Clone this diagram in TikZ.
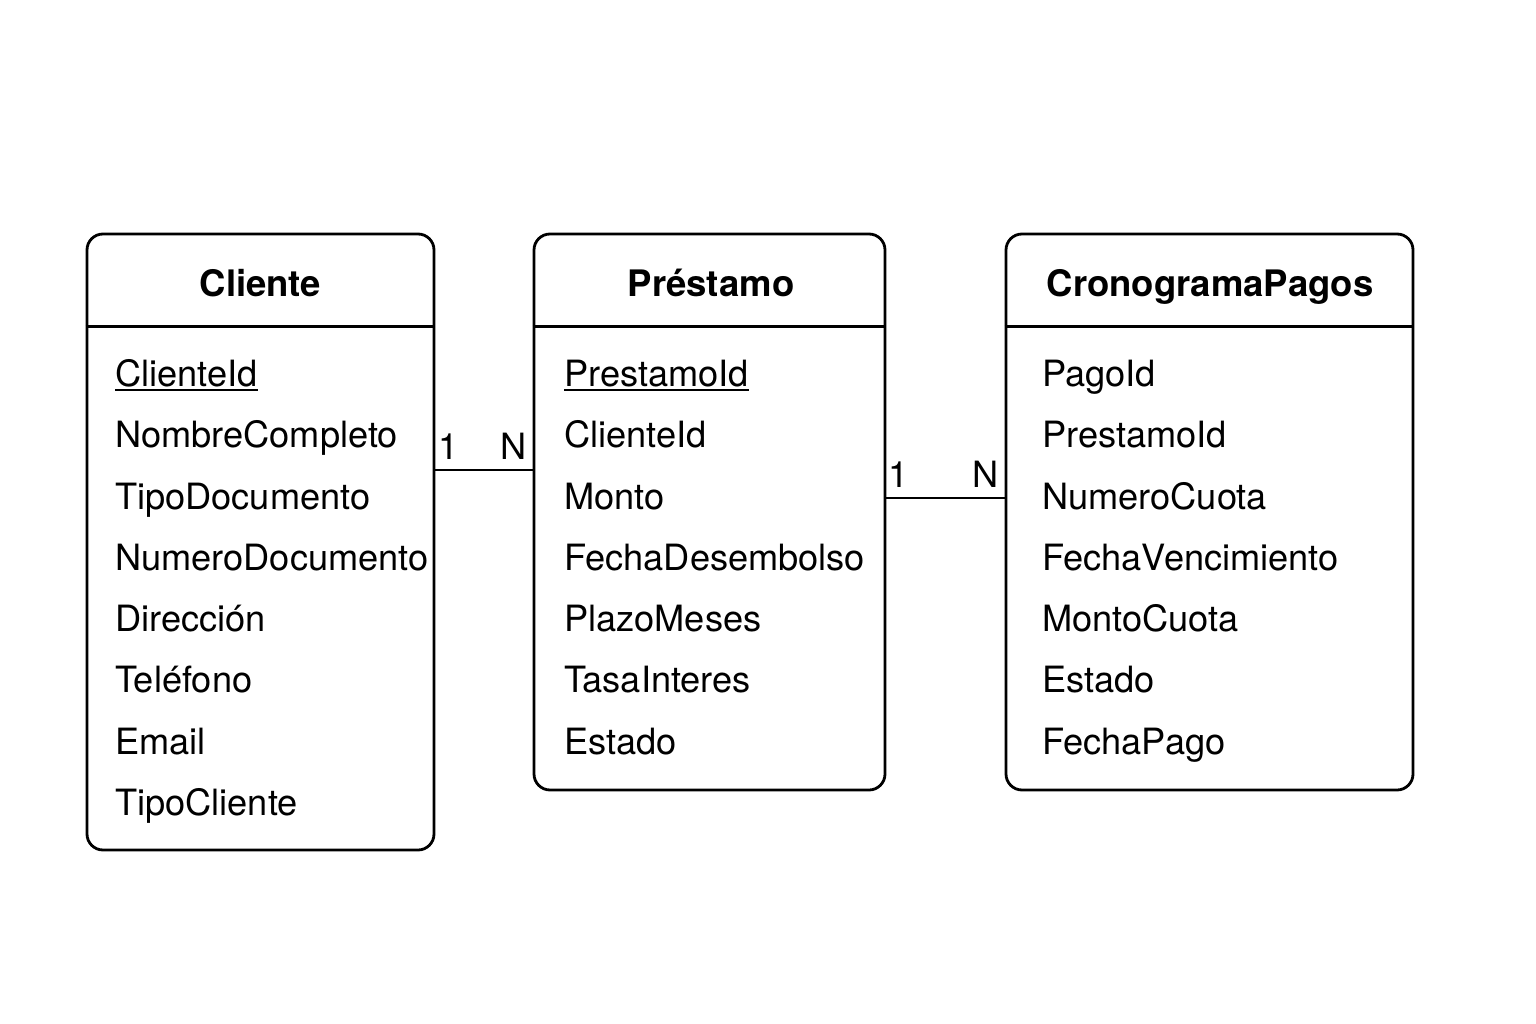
\documentclass[tikz,border=0pt]{standalone}
\usepackage{fontspec}
\setmainfont{TeX Gyre Heros}
\begin{document}
\begin{tikzpicture}[x=1pt,y=-1pt,
  entity/.style={draw,line width=2.8pt,rounded corners=16pt,inner sep=0pt},
  sep/.style={line width=2.6pt},
  rel/.style={line width=2.4pt},
  ttl/.style={font=\fontsize{36.5}{40}\selectfont\bfseries,inner sep=0pt,anchor=base},
  attr/.style={font=\fontsize{36.2}{40}\selectfont,inner sep=0pt,anchor=base west},
  card/.style={font=\fontsize{36.2}{40}\selectfont,inner sep=0pt,anchor=base}]
\useasboundingbox (0,0) rectangle (1536,1024);
% entities
\node[entity,minimum width=347pt,minimum height=616pt] (cli) at (260.5,542) {};
\node[entity,minimum width=351pt,minimum height=556pt] (pre) at (709.5,512) {};
\node[entity,minimum width=407pt,minimum height=556pt] (cro) at (1209.5,512) {};
\foreach \b in {cli,pre,cro}{
  \draw[sep] ([yshift=-94pt]\b.north west) -- ([yshift=-94pt]\b.north east);
}
% titles
\node[ttl] (tcli) at (260.5,297) {Cliente};
\node[ttl] (tpre) at (711,297) {Préstamo};
\node[ttl] (tcro) at (1210,297) {CronogramaPagos};
% Cliente attributes
\node[attr] (c1) at (115,386) {ClienteId};
\node[attr] (c2) at (115,447.5) {NombreCompleto};
\node[attr] (c3) at (115,509) {TipoDocumento};
\node[attr] (c4) at (115,570) {NumeroDocumento};
\node[attr] (c5) at (115,631) {Dirección};
\node[attr] (c6) at (115,692.5) {Teléfono};
\node[attr] (c7) at (115,754) {Email};
\node[attr] (c8) at (115,815) {TipoCliente};
\draw[line width=1.6pt] ([yshift=-4pt]c1.base west) -- ([yshift=-4pt]c1.base east);
% Prestamo attributes
\node[attr] (p1) at (564,386) {PrestamoId};
\node[attr] (p2) at (564,447.5) {ClienteId};
\node[attr] (p3) at (564,509) {Monto};
\node[attr] (p4) at (564,570) {FechaDesembolso};
\node[attr] (p5) at (564,631) {PlazoMeses};
\node[attr] (p6) at (564,692.5) {TasaInteres};
\node[attr] (p7) at (564,754) {Estado};
\draw[line width=1.6pt] ([yshift=-4pt]p1.base west) -- ([yshift=-4pt]p1.base east);
% Cronograma attributes
\node[attr] (k1) at (1042,386) {PagoId};
\node[attr] (k2) at (1042,447.5) {PrestamoId};
\node[attr] (k3) at (1042,509) {NumeroCuota};
\node[attr] (k4) at (1042,570) {FechaVencimiento};
\node[attr] (k5) at (1042,631) {MontoCuota};
\node[attr] (k6) at (1042,692.5) {Estado};
\node[attr] (k7) at (1042,754) {FechaPago};
% relationships
\coordinate (r1) at (0,470);
\coordinate (r2) at (0,498);
\draw[rel] (cli.east |- r1) -- (pre.west |- r1);
\draw[rel] (pre.east |- r2) -- (cro.west |- r2);
\node[card] (n1a) at (449,459) {1};
\node[card] (n1b) at (514,459) {N};
\node[card] (n2a) at (899,487) {1};
\node[card] (n2b) at (986,487) {N};
\end{tikzpicture}
\end{document}
